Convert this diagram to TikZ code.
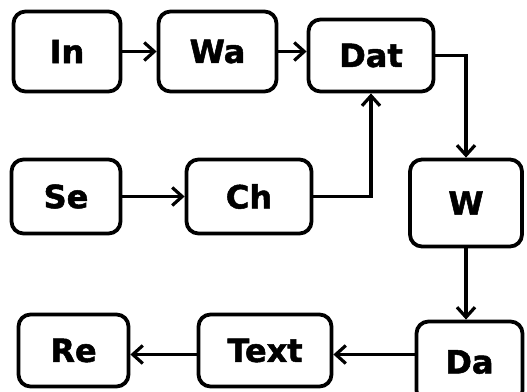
\documentclass[tikz,border=0pt]{standalone}
\usepackage{fontspec}
\setmainfont{DejaVu Sans}
\newfontfamily\heavyfont[FakeBold=1.6]{DejaVu Sans Bold}
\usetikzlibrary{arrows.meta}
\begin{document}
\begin{tikzpicture}[x=1pt,y=-1pt,
  blk/.style={draw, line width=3.8pt, rounded corners=12pt, inner sep=0pt,
    font=\heavyfont\fontsize{32}{36}\selectfont},
  arr/.style={line width=3.2pt, -{Straight Barb[length=10pt,width=18pt]}}]
\useasboundingbox (0,0) rectangle (527,391);
\clip (0,0) rectangle (527,391);

% first row
\node[blk, minimum width=107pt, minimum height=80pt] (in)  at (67,51.5)   {In};
\node[blk, minimum width=118pt, minimum height=80pt] (wa)  at (217.5,51.5) {Wa};
\node[blk, minimum width=125pt, minimum height=72pt] (dat) at (371,55.5)  {Dat};

% second row
\node[blk, minimum width=109pt, minimum height=74pt] (se)  at (66,196.5)  {Se};
\node[blk, minimum width=125pt, minimum height=74pt] (ch)  at (249,196.5) {Ch};
\node[blk, minimum width=112pt, minimum height=87pt] (w)   at (466,203)   {W};

% third row
\node[blk, minimum width=110pt, minimum height=72pt] (re)   at (73.5,350.5) {Re};
\node[blk, minimum width=133pt, minimum height=72pt] (text) at (265,350.5)  {Text};
\node[blk, minimum width=106pt, minimum height=81pt] (da)   at (469.5,362)  {Da};

% connectors
\draw[arr] (in) -- (wa);
\draw[arr] (wa.east) -- (wa.east -| dat.west);
\draw[arr] (dat.east) -| (w.north);
\draw[arr] (se) -- (ch);
\draw[arr] (ch.east) -| (dat.south);
\draw[arr] (w.south) -- (w.south |- da.north);
\draw[arr] ([yshift=-4pt]text.east -| da.west) -- ([yshift=-4pt]text.east);
\draw[arr] ([yshift=-4pt]text.west) -- ([yshift=-4pt]re.east);
\end{tikzpicture}
\end{document}
